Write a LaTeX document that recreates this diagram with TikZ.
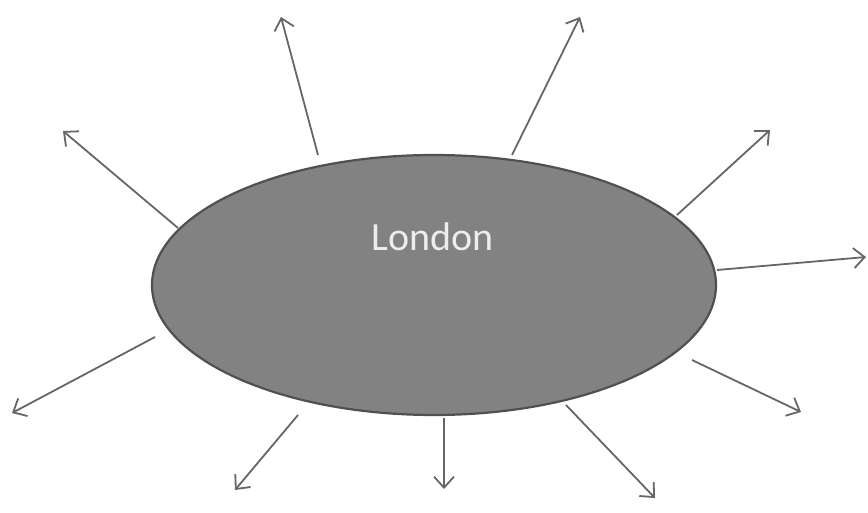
\documentclass[tikz,border=0pt]{standalone}
\usepackage{fontspec}
\setmainfont{Carlito}
\usetikzlibrary{shapes.geometric,arrows.meta}
\definecolor{fillgray}{HTML}{828282}
\definecolor{edgegray}{HTML}{505050}
\definecolor{arrowgray}{HTML}{666666}
\definecolor{textgray}{HTML}{EDEDED}
\tikzset{
  city/.style={ellipse, draw=edgegray, line width=2.2pt, fill=fillgray, minimum width=564pt, minimum height=260pt, inner sep=0pt},
  citylabel/.style={text=textgray, font=\fontsize{40}{44}\selectfont, inner sep=0pt},
  ray/.style={draw=arrowgray, line width=1.8pt, -{Straight Barb[length=11pt,width=20pt,line width=1.8pt]}}
}
\begin{document}
\begin{tikzpicture}[x=1pt,y=-1pt]
\useasboundingbox (0,0) rectangle (868,513);
\node[city] (london) at (434,285) {};
\node[citylabel] (lbl) at (433,237) {London};
\coordinate (s1) at (178,228);  \coordinate (e1) at (63,131);
\coordinate (s2) at (318,155);  \coordinate (e2) at (281,17);
\coordinate (s3) at (512,155);  \coordinate (e3) at (580,17);
\coordinate (s4) at (677,215);  \coordinate (e4) at (770,130);
\coordinate (s5) at (717,270);  \coordinate (e5) at (866,257);
\coordinate (s6) at (692,360);  \coordinate (e6) at (801,412);
\coordinate (s7) at (566,405);  \coordinate (e7) at (655,498);
\coordinate (s8) at (444,418);  \coordinate (e8) at (444,489);
\coordinate (s9) at (298,415);  \coordinate (e9) at (235,490);
\coordinate (s10) at (155,337); \coordinate (e10) at (12,413);
\foreach \i in {1,...,10} \draw[ray] (s\i) -- (e\i);
\end{tikzpicture}
\end{document}
